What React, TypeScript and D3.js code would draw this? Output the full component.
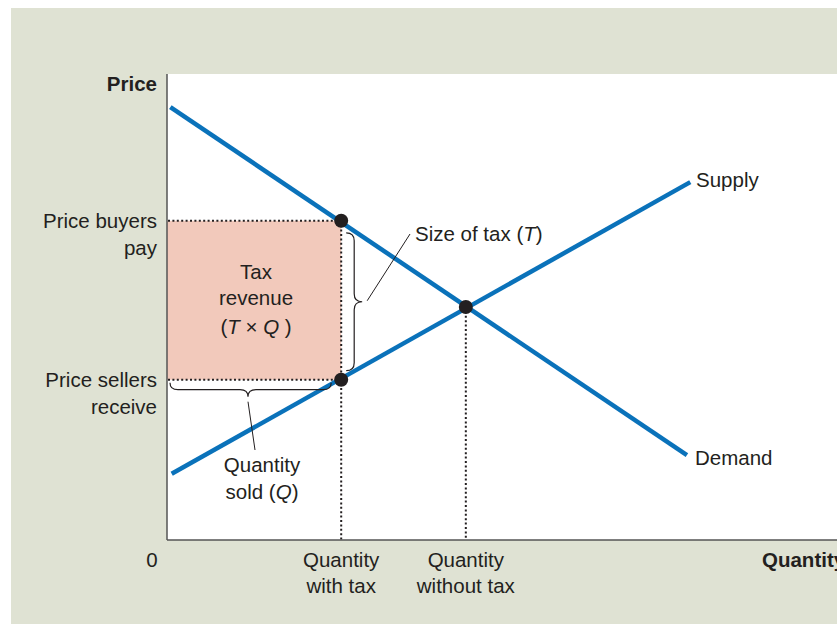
import * as d3 from 'd3';

// Curves and key points, in chart units (quantity 0–10, price 0–10)
const demand: [number, number][] = [[0.05, 9.29], [7.76, 1.82]];
const supply: [number, number][] = [[0.07, 1.42], [7.81, 7.68]];
const quantities = { withTax: 2.6, withoutTax: 4.46 };
const prices = { buyers: 6.85, sellers: 3.44, equilibrium: 5.0 };
const dots: [number, number][] = [
  [quantities.withTax, prices.buyers],
  [quantities.withTax, prices.sellers],
  [quantities.withoutTax, prices.equilibrium],
];
const yLabels = [
  { p: prices.buyers, lines: ['Price buyers', 'pay'] },
  { p: prices.sellers, lines: ['Price sellers', 'receive'] },
];
const xLabels = [
  { q: quantities.withTax, lines: ['Quantity', 'with tax'] },
  { q: quantities.withoutTax, lines: ['Quantity', 'without tax'] },
];

const W = 837, H = 624;
const FONT = '"Liberation Sans", Arial, sans-serif';
const INK = '#231f20';
const BLUE = '#0a72ba';

export default function App() {
  const x = d3.scaleLinear().domain([0, 10]).range([167, 837]);
  const y = d3.scaleLinear().domain([0, 10]).range([540, 74]);
  const line = d3.line<[number, number]>().x(d => x(d[0])).y(d => y(d[1]));

  const qt = x(quantities.withTax), qn = x(quantities.withoutTax);
  const pb = y(prices.buyers), ps = y(prices.sellers), pe = y(prices.equilibrium);

  // vertical brace (pointing right) beside the tax gap
  const bx0 = qt + 5, bxs = qt + 13, bxt = qt + 21;
  const by0 = pb + 12, by1 = ps - 9, bym = (by0 + by1) / 2, r = 8;
  const vBrace = `M${bx0},${by0} Q${bxs},${by0} ${bxs},${by0 + r} L${bxs},${bym - r} Q${bxs},${bym} ${bxt},${bym} Q${bxs},${bym} ${bxs},${bym + r} L${bxs},${by1 - r} Q${bxs},${by1} ${bx0},${by1}`;

  // horizontal brace (pointing down) under the sellers price line
  const hx0 = x(0) + 3, hx1 = qt - 10, hxm = 248;
  const hy0 = ps + 3, hys = ps + 10, hyt = ps + 17, hr = 8;
  const hBrace = `M${hx0},${hy0} Q${hx0},${hys} ${hx0 + hr},${hys} L${hxm - hr},${hys} Q${hxm},${hys} ${hxm},${hyt} Q${hxm},${hys} ${hxm + hr},${hys} L${hx1 - hr},${hys} Q${hx1},${hys} ${hx1},${hy0}`;

  const dotted = { stroke: INK, strokeWidth: 2, strokeDasharray: '2,2.4', fill: 'none' } as const;

  return (
    <svg width={W} height={H} style={{ position: 'fixed', left: 0, top: 0 }} fontFamily={FONT}>
      <rect x={0} y={0} width={W} height={H} fill="#fff" />
      <rect x={11} y={8} width={W - 11} height={H - 8} fill="#dfe2d3" />
      <rect x={x(0)} y={y(10)} width={x(10) - x(0)} height={y(0) - y(10)} fill="#fff" />

      {/* tax revenue area */}
      <rect x={x(0)} y={pb} width={qt - x(0)} height={ps - pb} fill="#f2c9bb" />

      {/* dotted guides */}
      <line x1={x(0) + 1} x2={qt} y1={pb} y2={pb} {...dotted} />
      <line x1={x(0) + 1} x2={qt} y1={ps} y2={ps} {...dotted} />
      <line x1={qt} x2={qt} y1={pb} y2={y(0)} {...dotted} />
      <line x1={qn} x2={qn} y1={pe} y2={y(0)} {...dotted} />

      {/* axes */}
      <line x1={x(0)} x2={x(0)} y1={y(10)} y2={y(0)} stroke="#555" strokeWidth={1.5} />
      <line x1={x(0)} x2={x(10)} y1={y(0)} y2={y(0)} stroke="#555" strokeWidth={1.5} />

      {/* curves */}
      <path d={line(demand) ?? ''} stroke={BLUE} strokeWidth={4.5} fill="none" />
      <path d={line(supply) ?? ''} stroke={BLUE} strokeWidth={4.5} fill="none" />
      {dots.map(([q, p], i) => (
        <circle key={i} cx={x(q)} cy={y(p)} r={7} fill={INK} />
      ))}

      {/* braces and leaders */}
      <path d={vBrace} stroke={INK} strokeWidth={1.2} fill="none" />
      <path d={hBrace} stroke={INK} strokeWidth={1.2} fill="none" />
      <line x1={bxt + 5} y1={bym - 1} x2={410} y2={234} stroke={INK} strokeWidth={1} />
      <line x1={hxm} y1={hyt + 5} x2={255} y2={450} stroke={INK} strokeWidth={1} />

      <g fill={INK} fontSize={20.5}>
        <text x={157} y={91} textAnchor="end" fontWeight="bold">Price</text>
        {yLabels.map(l => (
          <text key={l.lines[0]} x={157} y={y(l.p) + 7} textAnchor="end">
            {l.lines.map((s, i) => (
              <tspan key={s} x={157} dy={i === 0 ? 0 : 27}>{s}</tspan>
            ))}
          </text>
        ))}
        <text x={152} y={567} textAnchor="middle">0</text>
        {xLabels.map(l => (
          <text key={l.lines[1]} x={x(l.q)} y={567} textAnchor="middle">
            {l.lines.map((s, i) => (
              <tspan key={s} x={x(l.q)} dy={i === 0 ? 0 : 26}>{s}</tspan>
            ))}
          </text>
        ))}
        <text x={762} y={567} fontWeight="bold">Quantity</text>

        <text x={696} y={187}>Supply</text>
        <text x={695} y={465}>Demand</text>

        <text x={415} y={241}>Size of tax (<tspan fontStyle="italic">T</tspan>)</text>

        <text x={256} y={279} textAnchor="middle">Tax</text>
        <text x={256} y={305} textAnchor="middle">revenue</text>
        <text x={256} y={334} textAnchor="middle">
          (<tspan fontStyle="italic">T</tspan> × <tspan fontStyle="italic">Q</tspan> )
        </text>

        <text x={262} y={472} textAnchor="middle">Quantity</text>
        <text x={262} y={499} textAnchor="middle">sold (<tspan fontStyle="italic">Q</tspan>)</text>
      </g>
    </svg>
  );
}
